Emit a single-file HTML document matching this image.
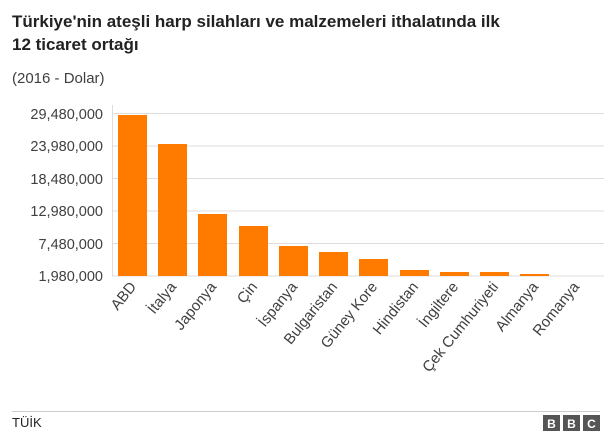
<!DOCTYPE html>
<html><head><meta charset="utf-8"><style>
body{margin:0;width:611px;height:436px;background:#fff;font-family:"Liberation Sans",Arial,sans-serif;overflow:hidden}
</style></head><body>
<svg width="611" height="436" xmlns="http://www.w3.org/2000/svg" font-family="Liberation Sans, Arial, sans-serif">
<text x="12" y="27" font-size="17" font-weight="bold" fill="#222">Türkiye'nin ateşli harp silahları ve malzemeleri ithalatında ilk</text>
<text x="12" y="50" font-size="17" font-weight="bold" fill="#222">12 ticaret ortağı</text>
<text x="12" y="83" font-size="15" fill="#404040">(2016 - Dolar)</text>
<g stroke="#ddd" stroke-width="1">
<line x1="112" y1="113.5" x2="604" y2="113.5"/>
<line x1="112" y1="146" x2="604" y2="146"/>
<line x1="112" y1="178.5" x2="604" y2="178.5"/>
<line x1="112" y1="211" x2="604" y2="211"/>
<line x1="112" y1="243.5" x2="604" y2="243.5"/>
<line x1="112" y1="276" x2="604" y2="276"/>
<line x1="112.5" y1="105" x2="112.5" y2="276"/>
</g>
<g font-size="14.5" fill="#404040" text-anchor="end">
<text x="103" y="119">29,480,000</text>
<text x="103" y="151">23,980,000</text>
<text x="103" y="184">18,480,000</text>
<text x="103" y="216">12,980,000</text>
<text x="103" y="249">7,480,000</text>
<text x="103" y="281">1,980,000</text>
</g>
<g fill="#ff7b00">
<rect x="118" y="115" width="29" height="161"/>
<rect x="158" y="144" width="29" height="132"/>
<rect x="198" y="214" width="29" height="62"/>
<rect x="239" y="226" width="29" height="50"/>
<rect x="279" y="246" width="29" height="30"/>
<rect x="319" y="252" width="29" height="24"/>
<rect x="359" y="259" width="29" height="17"/>
<rect x="400" y="270" width="29" height="6"/>
<rect x="440" y="272" width="29" height="4"/>
<rect x="480" y="272" width="29" height="4"/>
<rect x="520" y="274" width="29" height="2"/>
</g>
<g font-size="15" fill="#404040" text-anchor="end">
<text transform="translate(137,287) rotate(-51)">ABD</text>
<text transform="translate(177,287) rotate(-51)">İtalya</text>
<text transform="translate(217,287) rotate(-51)">Japonya</text>
<text transform="translate(258,287) rotate(-51)">Çin</text>
<text transform="translate(298,287) rotate(-51)">İspanya</text>
<text transform="translate(338,287) rotate(-51)">Bulgaristan</text>
<text transform="translate(378,287) rotate(-51)">Güney Kore</text>
<text transform="translate(419,287) rotate(-51)">Hindistan</text>
<text transform="translate(459,287) rotate(-51)">İngiltere</text>
<text transform="translate(499,287) rotate(-51)">Çek Cumhuriyeti</text>
<text transform="translate(539,287) rotate(-51)">Almanya</text>
<text transform="translate(580,287) rotate(-51)">Romanya</text>
</g>
<line x1="12" y1="411.5" x2="600" y2="411.5" stroke="#ccc"/>
<text x="12" y="427" font-size="13" fill="#222">TÜİK</text>
<g font-size="12" font-weight="bold" fill="#fff" text-anchor="middle">
<rect x="543" y="415" width="17" height="16" fill="#555"/><text x="551.5" y="428">B</text>
<rect x="563" y="415" width="17" height="16" fill="#555"/><text x="571.5" y="428">B</text>
<rect x="583" y="415" width="17" height="16" fill="#555"/><text x="591.5" y="428">C</text>
</g>
</svg>
</body></html>
